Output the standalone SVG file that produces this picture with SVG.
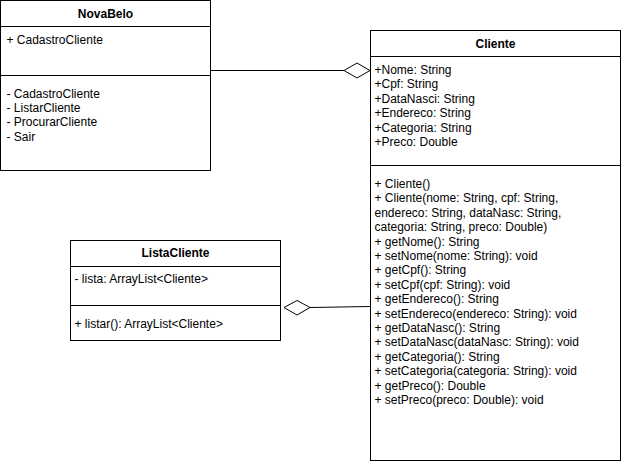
<svg xmlns="http://www.w3.org/2000/svg" width="621" height="464" viewBox="0 0 621 464">
<style>
  .box { fill: #ffffff; stroke: #000000; stroke-width: 1; }
  .sep { stroke: #000000; stroke-width: 1; }
  .t { font-family: "Liberation Sans", Arial, Helvetica, sans-serif; font-size: 12px; fill: #000000; }
  .title { font-weight: bold; text-anchor: middle; }
  .conn { stroke: #000000; stroke-width: 1; fill: none; }
  .dia { fill: #ffffff; stroke: #000000; stroke-width: 1; }
</style>
<rect width="621" height="464" fill="#ffffff"/>
<g id="connectors">
  <line class="conn" x1="210.5" y1="70.5" x2="344" y2="70.5"/>
  <polygon class="dia" points="344,70.5 357,63 370,70.5 357,78"/>
  <line class="conn" x1="310" y1="307.5" x2="370" y2="306.5"/>
  <polygon class="dia" points="284,307.5 297,300.5 310,307.5 297,315"/>
</g>
<g id="NovaBelo">
  <rect class="box" x="0.5" y="0.5" width="210" height="170"/>
  <line class="sep" x1="0.5" y1="26.5" x2="210.5" y2="26.5"/>
  <line class="sep" x1="0.5" y1="75.5" x2="210.5" y2="75.5"/>
  <text class="t title" x="105.5" y="17.5">NovaBelo</text>
  <text class="t" x="6.5" y="43.5">+ CadastroCliente</text>
  <text class="t" x="6.5" y="97.5">- CadastroCliente</text>
  <text class="t" x="6.5" y="111.9">- ListarCliente</text>
  <text class="t" x="6.5" y="126.3">- ProcurarCliente</text>
  <text class="t" x="6.5" y="140.7">- Sair</text>
</g>
<g id="Cliente">
  <rect class="box" x="370.5" y="30.5" width="250" height="430"/>
  <line class="sep" x1="370.5" y1="56.5" x2="620.5" y2="56.5"/>
  <line class="sep" x1="370.5" y1="165.5" x2="620.5" y2="165.5"/>
  <text class="t title" x="495.5" y="47.5">Cliente</text>
  <text class="t" x="374.5" y="74">+Nome: String</text>
  <text class="t" x="374.5" y="88.4">+Cpf: String</text>
  <text class="t" x="374.5" y="102.8">+DataNasci: String</text>
  <text class="t" x="374.5" y="117.2">+Endereco: String</text>
  <text class="t" x="374.5" y="131.6">+Categoria: String</text>
  <text class="t" x="374.5" y="146">+Preco: Double</text>
  <text class="t" x="374.5" y="188">+ Cliente()</text>
  <text class="t" x="374.5" y="202.4">+ Cliente(nome: String, cpf: String,</text>
  <text class="t" x="374.5" y="216.8">endereco: String, dataNasc: String,</text>
  <text class="t" x="374.5" y="231.2">categoria: String, preco: Double)</text>
  <text class="t" x="374.5" y="245.6">+ getNome(): String</text>
  <text class="t" x="374.5" y="260">+ setNome(nome: String): void</text>
  <text class="t" x="374.5" y="274.4">+ getCpf(): String</text>
  <text class="t" x="374.5" y="288.8">+ setCpf(cpf: String): void</text>
  <text class="t" x="374.5" y="303.2">+ getEndereco(): String</text>
  <text class="t" x="374.5" y="317.6">+ setEndereco(endereco: String): void</text>
  <text class="t" x="374.5" y="332">+ getDataNasc(): String</text>
  <text class="t" x="374.5" y="346.4">+ setDataNasc(dataNasc: String): void</text>
  <text class="t" x="374.5" y="360.8">+ getCategoria(): String</text>
  <text class="t" x="374.5" y="375.2">+ setCategoria(categoria: String): void</text>
  <text class="t" x="374.5" y="389.6">+ getPreco(): Double</text>
  <text class="t" x="374.5" y="404">+ setPreco(preco: Double): void</text>
</g>
<g id="ListaCliente">
  <rect class="box" x="70.5" y="240.5" width="210" height="100"/>
  <line class="sep" x1="70.5" y1="266.5" x2="280.5" y2="266.5"/>
  <line class="sep" x1="70.5" y1="305.5" x2="280.5" y2="305.5"/>
  <text class="t title" x="175.5" y="257">ListaCliente</text>
  <text class="t" x="74.5" y="282.5">- lista: ArrayList&lt;Cliente&gt;</text>
  <text class="t" x="74.5" y="327.5">+ listar(): ArrayList&lt;Cliente&gt;</text>
</g>
</svg>
